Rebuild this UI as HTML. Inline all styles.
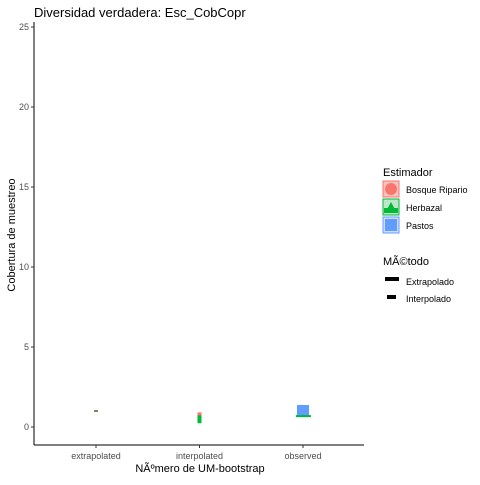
<!DOCTYPE html>
<html><head><meta charset="utf-8"><style>
body{margin:0;background:#fff;}
text{font-family:"Liberation Sans",sans-serif;}
</style></head><body>
<svg id="c" width="480" height="480">
<text x="34" y="17" font-size="13" fill="#000">Diversidad verdadera: Esc_CobCopr</text>
<g id="axes"></g><g id="marks"></g>
<text x="15" y="235" font-size="11" fill="#000" text-anchor="middle" transform="rotate(-90 15 235)">Cobertura de muestreo</text>
<text x="200" y="472" font-size="11" fill="#000" text-anchor="middle">NÃºmero de UM-bootstrap</text>
<g>
<text x="383" y="176" font-size="11">Estimador</text>
<g><rect x="383" y="181" width="16" height="16" fill="#f4c2bf" stroke="#F8766D"/><circle cx="391" cy="189" r="6" fill="#F8766D"/><text x="406" y="193" font-size="9">Bosque Ripario</text></g>
<g><rect x="383" y="199" width="16" height="16" fill="#bfe6c8" stroke="#00BA38"/><polygon points="385,213 391,202 397,213" fill="#00BA38"/><rect x="384" y="208" width="14" height="5" fill="#00BA38"/><text x="406" y="211" font-size="9">Herbazal</text></g>
<g><rect x="383" y="217" width="16" height="16" fill="#cfdcfb" stroke="#619CFF"/><rect x="385" y="219" width="12" height="12" fill="#619CFF"/><text x="406" y="229" font-size="9">Pastos</text></g>
<text x="383" y="265" font-size="11">MÃ©todo</text>
<g><rect x="385" y="277" width="14" height="4" fill="#000"/><text x="406" y="285" font-size="9">Extrapolado</text></g>
<g><rect x="387" y="295" width="9" height="4" fill="#000"/><text x="406" y="302" font-size="9">Interpolado</text></g>
</g>
</svg>
<script>
const categories=["extrapolated","interpolated","observed"];
const yTicks=[0,5,10,15,20,25];
const bosqueValues=[1.0,0.85,null];
const herbazalValues=[1.0,0.55,0.68];
const pastosValues=[1.0,null,1.0];
const NS="http://www.w3.org/2000/svg";
const x0=34,x1=364,yTop=22,yBot=445;
function yS(v){return 427-v*16;}
function xS(i){return 96+i*103.5;}
const ax=document.getElementById('axes'),mk=document.getElementById('marks');
function el(t,a,p){const e=document.createElementNS(NS,t);for(const k in a)e.setAttribute(k,a[k]);p.appendChild(e);return e;}
let l=el('line',{x1:x0,y1:yTop,x2:x0,y2:yBot,stroke:'#000'},ax);


l=el('line',{x1:x0,y1:yBot,x2:x1,y2:yBot,stroke:'#000'},ax);


yTicks.forEach(v=>{
 el('line',{x1:x0-3,x2:x0,y1:yS(v),y2:yS(v),stroke:'#333'},ax);
 const t=el('text',{x:x0-5,y:yS(v)+3,'font-size':9,fill:'#4d4d4d','text-anchor':'end'},ax);t.textContent=v;
 
 
});
categories.forEach((c,i)=>{
 el('line',{x1:xS(i),x2:xS(i),y1:yBot,y2:yBot+3,stroke:'#333'},ax);
 const t=el('text',{x:xS(i),y:yBot+14,'font-size':9,fill:'#4d4d4d','text-anchor':'middle'},ax);t.textContent=c;
 
 
});
let r=el('rect',{x:xS(0)-2,y:yS(herbazalValues[0])-1,width:4,height:2,fill:'#7a8a5a'},mk);


r=el('rect',{x:xS(1)-2,y:yS(bosqueValues[1])-1,width:4,height:4,fill:'#F8766D'},mk);


r=el('rect',{x:xS(1)-2,y:yS(bosqueValues[1])+2,width:4,height:yS(herbazalValues[1])-yS(bosqueValues[1])+3,fill:'#00BA38'},mk);


r=el('rect',{x:xS(2)-6,y:yS(pastosValues[2])-6,width:12,height:11,fill:'#619CFF'},mk);


r=el('rect',{x:xS(2)-7,y:yS(herbazalValues[2])-1,width:15,height:2,fill:'#00BA38'},mk);


</script>
</body></html>
